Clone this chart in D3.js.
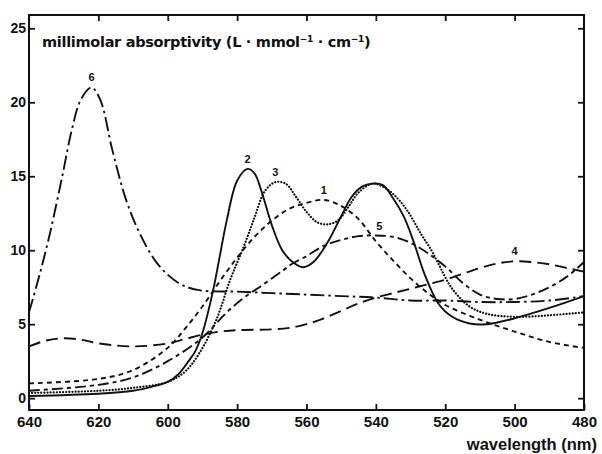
<!DOCTYPE html>
<html lang="en">
<head>
<meta charset="utf-8">
<title>millimolar absorptivity</title>
<script src="https://cdn.jsdelivr.net/npm/d3@7"></script>
<style>
  body { margin: 0; background: #fff; }
  svg { display: block; font-family: "Liberation Sans", Arial, sans-serif; }
  .tick line { stroke: #111; stroke-width: 1.8; }
  .tick text { fill: #111; font-weight: bold; }
</style>
</head>
<body>
<script>
// wavelength ticks (nm) and absorptivity ticks
var xTicks = [640, 620, 600, 580, 560, 540, 520, 500, 480];
var yTicks = [0, 5, 10, 15, 20, 25];

// curve 1 (short dash)
var wl1 = [640, 620, 610, 600, 595, 590, 585, 580, 575, 570, 565, 560, 555, 550, 545, 540, 535, 530, 525, 520, 510, 500, 490, 480];
var ab1 = [1.0, 1.3, 1.9, 3.4, 4.7, 6.2, 7.9, 9.5, 10.9, 12.0, 12.8, 13.2, 13.4, 13.0, 12.1, 10.6, 9.3, 8.1, 7.1, 6.3, 5.3, 4.5, 3.8, 3.4];

// curve 2 (solid)
var wl2 = [640, 620, 610, 605, 600, 597, 594, 592, 590, 587, 585, 583, 580, 577, 575, 573, 570, 567, 564, 561, 558, 554, 550, 547, 544, 541, 538, 535, 532, 529, 526, 522, 518, 513, 508, 500, 490, 480];
var ab2 = [0.15, 0.3, 0.5, 0.75, 1.1, 1.6, 2.5, 3.2, 4.4, 7.2, 9.6, 12.0, 14.7, 15.5, 15.2, 14.0, 11.7, 10.0, 9.2, 8.85, 9.2, 10.5, 12.3, 13.6, 14.3, 14.5, 14.4, 13.5, 12.3, 10.5, 8.4, 6.4, 5.5, 5.05, 5.0, 5.4, 6.1, 6.9];

// curve 3 (dotted)
var wl3 = [640, 620, 610, 600, 595, 591, 586, 582, 578, 575, 572, 569, 566, 563, 560, 557, 554, 551, 548, 545, 541, 538, 535, 531, 527, 524, 522, 518, 513, 508, 500, 490, 480];
var ab3 = [0.35, 0.5, 0.7, 1.1, 1.8, 3.0, 5.3, 8.0, 10.3, 12.2, 14.0, 14.6, 14.5, 13.6, 12.6, 11.9, 11.75, 12.0, 12.9, 13.9, 14.5, 14.3, 13.8, 12.7, 11.1, 10.0, 9.1, 7.4, 6.2, 5.7, 5.5, 5.6, 5.8];

// curve 4 (long dash)
var wl4 = [640, 635, 630, 625, 620, 610, 600, 595, 590, 585, 580, 570, 565, 560, 555, 550, 545, 540, 535, 530, 525, 520, 515, 510, 505, 500, 495, 490, 485, 480];
var ab4 = [3.5, 3.9, 4.05, 3.95, 3.7, 3.5, 3.7, 4.0, 4.3, 4.5, 4.6, 4.65, 4.75, 5.0, 5.4, 5.9, 6.4, 6.8, 7.1, 7.4, 7.7, 8.0, 8.4, 8.8, 9.1, 9.25, 9.2, 9.05, 8.8, 8.55];

// curve 5 (long dash, short dash)
var wl5 = [640, 620, 610, 600, 590, 583, 578, 573, 567, 564, 560, 555, 550, 545, 540, 535, 530, 525, 520, 515, 510, 505, 500, 495, 490, 485, 480];
var ab5 = [0.5, 0.9, 1.4, 2.5, 4.1, 5.8, 6.8, 7.6, 8.6, 9.1, 9.6, 10.3, 10.7, 10.95, 11.0, 10.9, 10.5, 9.8, 8.9, 7.8, 7.0, 6.7, 6.7, 7.0, 7.5, 8.2, 9.2];

// curve 6 (dash dot)
var wl6 = [640, 637, 634, 630.5, 627.5, 625, 622, 619.5, 616, 612, 608, 603, 597, 591, 580, 570, 560, 550, 540, 530, 520, 510, 500, 490, 480];
var ab6 = [5.8, 8.3, 11.1, 14.9, 18.3, 20.2, 21.0, 20.2, 16.8, 13.4, 11.1, 9.1, 7.8, 7.3, 7.2, 7.1, 7.0, 6.9, 6.8, 6.6, 6.6, 6.5, 6.5, 6.6, 6.9];

var curveNames = ["1", "2", "3", "4", "5", "6"];
var labelWl = [555, 577, 569, 500, 539, 622];

var w = 602, h = 454;

var x = d3.scaleLinear().domain([640, 480]).range([29, 584]);
var y = d3.scaleLinear().domain([-0.8, 25.9]).range([410, 15]);

var series = [
  { wl: wl1, ab: ab1, dash: "5,4" },
  { wl: wl2, ab: ab2, dash: null },
  { wl: wl3, ab: ab3, dash: "0.1,3" },
  { wl: wl4, ab: ab4, dash: "12,6" },
  { wl: wl5, ab: ab5, dash: "11,4,4,4" },
  { wl: wl6, ab: ab6, dash: "14,4,2.5,4" }
];

var svg = d3.select("body").append("svg")
  .attr("width", w)
  .attr("height", h);

var line = d3.line()
  .x(function(d) { return x(d[0]); })
  .y(function(d) { return y(d[1]); })
  .curve(d3.curveCatmullRom);

series.forEach(function(s, i) {
  var pts = s.wl.map(function(v, j) { return [v, s.ab[j]]; });
  svg.append("path")
    .datum(pts)
    .attr("d", line)
    .attr("fill", "none")
    .attr("stroke", "#111")
    .attr("stroke-width", i == 2 ? 2.2 : 1.9)
    .attr("stroke-linecap", i == 2 ? "round" : "butt")
    .attr("stroke-dasharray", s.dash);

  // number above the curve
  var lv = d3.scaleLinear().domain(s.wl).range(s.ab)(labelWl[i]);
  svg.append("text")
    .attr("x", x(labelWl[i]))
    .attr("y", y(lv) - 6)
    .attr("text-anchor", "middle")
    .attr("font-size", "11px")
    .attr("font-weight", "bold")
    .attr("fill", "#111")
    .text(curveNames[i]);
});

// axes, ticks pointing inward
var inner = xTicks.slice(1, -1);

svg.append("g")
  .attr("transform", "translate(0,410)")
  .call(d3.axisBottom(x).tickValues(xTicks).tickSize(-6).tickPadding(6).tickFormat(d3.format("d")))
  .call(function(g) { g.select(".domain").remove(); })
  .selectAll("text").attr("font-size", "15px");

svg.append("g")
  .attr("transform", "translate(0,15)")
  .call(d3.axisTop(x).tickValues(inner).tickSize(-6).tickFormat(""))
  .call(function(g) { g.select(".domain").remove(); });

svg.append("g")
  .attr("transform", "translate(29,0)")
  .call(d3.axisLeft(y).tickValues(yTicks).tickSize(-6).tickPadding(3))
  .call(function(g) { g.select(".domain").remove(); })
  .selectAll("text").attr("font-size", "14px").attr("font-weight", "normal");

svg.append("g")
  .attr("transform", "translate(584,0)")
  .call(d3.axisRight(y).tickValues(yTicks).tickSize(-6).tickFormat(""))
  .call(function(g) { g.select(".domain").remove(); });

svg.append("rect")
  .attr("x", 29).attr("y", 15)
  .attr("width", 555).attr("height", 395)
  .attr("fill", "none")
  .attr("stroke", "#111")
  .attr("stroke-width", 2);

// titles
var title = svg.append("text")
  .attr("x", 42).attr("y", 47)
  .attr("font-family", "'DejaVu Sans', sans-serif")
  .attr("font-size", "14.5px")
  .attr("font-weight", "bold")
  .attr("letter-spacing", "-0.3px")
  .attr("fill", "#111");
title.append("tspan").text("millimolar absorptivity (L · mmol");
title.append("tspan").attr("dy", -5).attr("font-size", "9px").text("−1");
title.append("tspan").attr("dy", 5).text(" · cm");
title.append("tspan").attr("dy", -5).attr("font-size", "9px").text("−1");
title.append("tspan").attr("dy", 5).text(")");

svg.append("text")
  .attr("x", 597).attr("y", 450)
  .attr("text-anchor", "end")
  .attr("font-size", "16.5px")
  .attr("font-weight", "bold")
  .attr("fill", "#111")
  .text("wavelength (nm)");
</script>
</body>
</html>
